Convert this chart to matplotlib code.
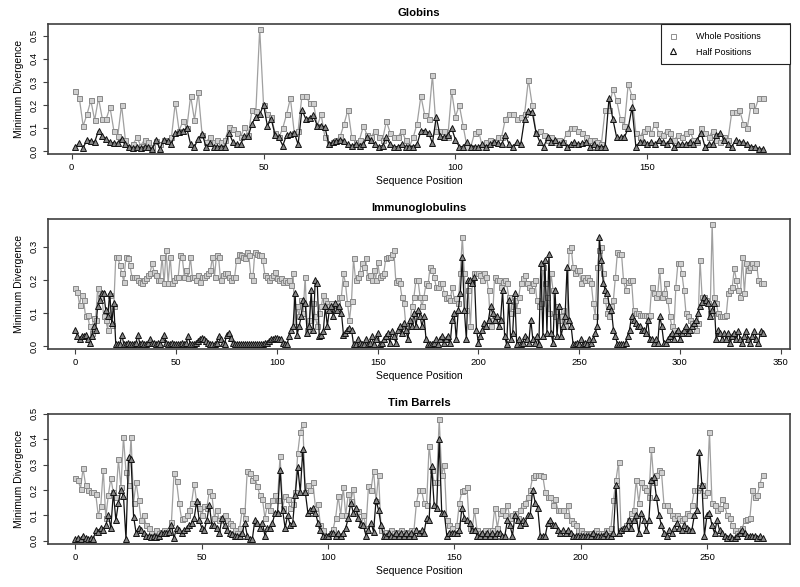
import numpy as np
import matplotlib
matplotlib.use("Agg")
import matplotlib.pyplot as plt

plt.rcParams['font.family'] = ['Liberation Sans', 'DejaVu Sans']

# ---- Globins (positions 1..180)
globin_start = 1
globin_whole = [
    .26, .23, .11, .16, .22, .135, .23, .14, .14, .19,
    .09, .065, .20, .05, .02, .03, .06, .025, .05, .04,
    .02, .045, .03, .05, .05, .06, .21, .09, .13, .10,
    .24, .135, .255, .07, .04, .06, .04, .05, .04, .05,
    .105, .095, .08, .06, .105, .07, .18, .175, .53, .20,
    .16, .15, .08, .06, .10, .16, .23, .08, .09, .24,
    .24, .21, .21, .11, .16, .06, .03, .04, .05, .065,
    .12, .18, .06, .04, .05, .11, .07, .06, .09, .06,
    .05, .13, .08, .06, .06, .09, .05, .02, .06, .12,
    .24, .155, .14, .33, .09, .09, .09, .06, .26, .15,
    .20, .11, .02, .02, .08, .09, .02, .04, .05, .04,
    .06, .06, .14, .16, .16, .14, .15, .16, .31, .20,
    .08, .09, .07, .05, .06, .04, .05, .04, .08, .10,
    .10, .09, .08, .06, .05, .05, .04, .03, .18, .18,
    .27, .22, .14, .11, .29, .24, .08, .06, .09, .10,
    .08, .12, .08, .07, .09, .08, .05, .07, .06, .08,
    .09, .05, .04, .10, .08, .06, .09, .05, .04, .06,
    .05, .17, .17, .18, .12, .10, .20, .18, .23, .23]
globin_half = [
    .02, .035, .015, .05, .045, .04, .09, .065, .055, .04,
    .035, .035, .055, .03, .02, .015, .02, .015, .02, .02,
    .01, .05, .01, .05, .045, .03, .08, .085, .09, .10,
    .03, .02, .055, .075, .02, .035, .02, .02, .02, .02,
    .08, .04, .03, .03, .065, .065, .12, .15, .16, .20,
    .11, .14, .07, .06, .025, .07, .075, .08, .03, .18,
    .14, .145, .155, .11, .11, .105, .03, .04, .045, .05,
    .045, .03, .025, .03, .025, .03, .06, .05, .03, .02,
    .025, .06, .03, .02, .02, .03, .02, .02, .02, .03,
    .09, .09, .08, .035, .15, .065, .06, .07, .10, .05,
    .02, .02, .04, .02, .02, .02, .03, .02, .03, .04,
    .035, .03, .07, .03, .02, .04, .03, .14, .175, .17,
    .08, .04, .02, .06, .04, .05, .03, .04, .02, .03,
    .04, .03, .035, .04, .02, .03, .02, .02, .02, .23,
    .14, .06, .06, .06, .10, .19, .02, .04, .04, .03,
    .04, .03, .05, .04, .03, .05, .02, .03, .03, .03,
    .04, .03, .05, .08, .02, .03, .03, .07, .08, .05,
    .03, .02, .05, .04, .04, .03, .02, .02, .01, .01]

# ---- Immunoglobulins (positions 0..341)
ig_start = 0
ig_whole = [
    .175, .165, .125, .155, .14, .09, .095, .06, .04, .085,
    .08, .175, .15, .16, .09, .08, .05, .155, .065, .12,
    .27, .27, .245, .22, .195, .27, .265, .245, .21, .21,
    .21, .20, .195, .19, .20, .205, .215, .22, .25, .225,
    .215, .20, .20, .27, .19, .29, .19, .27, .19, .20,
    .21, .21, .275, .27, .21, .23, .205, .27, .21, .21,
    .20, .215, .195, .21, .21, .215, .22, .23, .27, .21,
    .275, .27, .20, .215, .22, .22, .21, .20, .21, .21,
    .26, .28, .275, .27, .265, .285, .275, .215, .20, .285,
    .28, .275, .275, .26, .215, .21, .20, .21, .215, .225,
    .205, .20, .205, .195, .20, .195, .20, .185, .22, .06,
    .12, .09, .14, .10, .21, .05, .08, .13, .13, .09,
    .06, .10, .12, .155, .14, .13, .12, .13, .12, .11,
    .13, .15, .15, .22, .19, .13, .08, .135, .265, .20,
    .21, .22, .25, .24, .265, .21, .215, .20, .23, .20,
    .255, .21, .215, .22, .265, .27, .27, .28, .29, .195,
    .20, .19, .15, .13, .06, .06, .07, .12, .15, .20,
    .20, .15, .12, .15, .19, .185, .24, .23, .21, .18,
    .18, .19, .19, .16, .145, .15, .14, .18, .14, .145,
    .13, .22, .33, .22, .11, .17, .06, .19, .22, .22,
    .22, .215, .20, .22, .21, .17, .06, .08, .21, .20,
    .20, .18, .195, .20, .19, .15, .10, .12, .14, .11,
    .15, .19, .205, .215, .19, .18, .17, .19, .20, .14,
    .12, .13, .24, .19, .15, .10, .22, .17, .09, .12,
    .08, .09, .11, .06, .08, .29, .30, .24, .22, .23,
    .23, .19, .21, .20, .21, .20, .19, .13, .09, .24,
    .29, .30, .22, .14, .10, .09, .12, .14, .21, .285,
    .28, .28, .20, .17, .195, .20, .20, .11, .10, .10,
    .095, .095, .095, .095, .09, .095, .18, .16, .15, .16,
    .23, .15, .16, .19, .14, .09, .06, .05, .18, .25,
    .25, .22, .17, .10, .09, .08, .07, .06, .05, .07,
    .26, .15, .15, .14, .13, .10, .37, .15, .13, .10,
    .09, .09, .09, .095, .16, .17, .18, .235, .20, .17,
    .15, .27, .16, .25, .23, .24, .25, .24, .25, .20,
    .19, .19]
ig_half = [
    .05, .03, .02, .03, .03, .035, .02, .01, .03, .06,
    .05, .12, .14, .16, .16, .11, .09, .16, .07, .13,
    .005, .005, .005, .035, .005, .005, .01, .005, .005, .005,
    .01, .035, .005, .01, .005, .005, .01, .02, .01, .01,
    .005, .01, .005, .02, .035, .01, .005, .005, .01, .005,
    .005, .005, .005, .01, .005, .01, .03, .005, .005, .005,
    .01, .015, .02, .025, .02, .015, .01, .005, .005, .005,
    .01, .03, .02, .01, .005, .035, .04, .025, .01, .005,
    .005, .005, .005, .005, .005, .005, .005, .005, .005, .005,
    .005, .005, .005, .005, .01, .01, .015, .02, .02, .025,
    .025, .02, .02, .01, .005, .005, .03, .05, .06, .16,
    .035, .06, .09, .14, .13, .04, .06, .17, .05, .20,
    .19, .03, .035, .045, .12, .06, .11, .12, .09, .13,
    .11, .12, .10, .035, .04, .05, .055, .05, .005, .005,
    .02, .01, .005, .005, .02, .005, .01, .03, .005, .02,
    .04, .005, .01, .02, .03, .04, .01, .045, .03, .01,
    .05, .06, .04, .07, .05, .02, .08, .06, .10, .06,
    .11, .09, .06, .09, .02, .005, .005, .005, .01, .02,
    .005, .02, .03, .01, .02, .03, .01, .08, .10, .02,
    .11, .16, .27, .11, .02, .20, .20, .19, .21, .05,
    .01, .03, .05, .07, .06, .08, .12, .10, .08, .09,
    .06, .08, .17, .03, .005, .14, .02, .04, .16, .005,
    .02, .005, .01, .03, .02, .01, .08, .02, .01, .03,
    .005, .25, .03, .26, .04, .28, .04, .01, .17, .03,
    .12, .03, .06, .09, .24, .08, .06, .005, .005, .01,
    .005, .02, .005, .01, .005, .02, .01, .02, .04, .06,
    .33, .26, .19, .17, .16, .12, .11, .05, .03, .005,
    .005, .005, .005, .01, .03, .05, .09, .08, .07, .06,
    .06, .05, .05, .04, .08, .02, .02, .01, .02, .01,
    .09, .06, .01, .01, .02, .03, .04, .02, .04, .05,
    .02, .04, .05, .06, .04, .05, .06, .07, .08, .10,
    .12, .134, .147, .14, .13, .09, .11, .13, .02, .05,
    .04, .02, .04, .02, .04, .01, .03, .04, .02, .045,
    .02, .01, .03, .045, .02, .01, .03, .045, .02, .01,
    .045, .04]

# ---- Tim Barrels (positions 0..272)
tim_start = 0
tim_whole = [
    .245, .24, .205, .285, .22, .20, .19, .19, .185, .10,
    .135, .28, .09, .18, .245, .19, .17, .32, .21, .41,
    .27, .22, .41, .15, .23, .16, .08, .10, .06, .05,
    .03, .02, .04, .03, .035, .04, .035, .04, .075, .265,
    .235, .15, .085, .09, .10, .12, .15, .225, .15, .13,
    .10, .135, .13, .195, .18, .09, .12, .08, .09, .10,
    .08, .07, .06, .04, .03, .05, .12, .09, .275, .265,
    .24, .25, .215, .18, .165, .09, .14, .12, .16, .18,
    .16, .335, .13, .175, .165, .13, .145, .19, .345, .43,
    .46, .19, .22, .20, .23, .13, .145, .06, .04, .02,
    .02, .03, .045, .09, .175, .10, .21, .10, .185, .155,
    .205, .115, .115, .06, .10, .05, .215, .20, .275, .155,
    .26, .04, .03, .035, .03, .04, .03, .035, .03, .04,
    .03, .035, .03, .04, .04, .15, .20, .20, .15, .14,
    .375, .28, .23, .23, .48, .26, .30, .08, .06, .05,
    .03, .06, .15, .195, .20, .21, .05, .04, .12, .04,
    .03, .03, .04, .03, .04, .04, .13, .05, .11, .12,
    .10, .14, .09, .10, .11, .09, .12, .14, .15, .17,
    .20, .25, .26, .26, .26, .255, .19, .17, .17, .14,
    .165, .12, .12, .12, .10, .14, .08, .07, .06, .04,
    .04, .03, .03, .025, .03, .03, .04, .03, .03, .03,
    .04, .04, .05, .16, .24, .31, .04, .05, .06, .08,
    .11, .12, .24, .15, .23, .21, .20, .17, .36, .23,
    .26, .28, .27, .14, .14, .12, .10, .09, .10, .09,
    .08, .09, .11, .10, .14, .20, .20, .21, .22, .18,
    .19, .43, .15, .14, .12, .13, .165, .14, .10, .09,
    .06, .04, .03, .04, .05, .08, .085, .09, .20, .17,
    .18, .225, .26]
tim_half = [
    .005, .01, .005, .02, .01, .005, .01, .005, .04, .035,
    .05, .04, .06, .10, .05, .19, .08, .15, .20, .175,
    .005, .33, .32, .095, .03, .05, .04, .03, .02, .02,
    .015, .02, .015, .02, .03, .03, .03, .035, .06, .01,
    .05, .04, .03, .04, .05, .06, .07, .09, .155, .08,
    .05, .04, .08, .14, .06, .06, .05, .03, .09, .06,
    .04, .03, .025, .02, .02, .02, .03, .07, .02, .005,
    .005, .08, .07, .05, .07, .02, .05, .05, .07, .11,
    .11, .28, .12, .05, .10, .06, .07, .18, .29, .19,
    .36, .19, .11, .12, .13, .11, .07, .04, .02, .02,
    .02, .03, .03, .02, .03, .02, .03, .05, .09, .15,
    .11, .13, .09, .065, .06, .02, .04, .07, .035, .16,
    .12, .06, .02, .02, .03, .02, .02, .03, .02, .03,
    .02, .03, .02, .03, .02, .04, .03, .04, .03, .09,
    .08, .295, .14, .13, .40, .11, .11, .02, .03, .03,
    .03, .03, .04, .13, .09, .08, .07, .04, .04, .02,
    .02, .03, .02, .03, .02, .03, .02, .03, .03, .02,
    .02, .08, .06, .02, .10, .08, .06, .08, .07, .10,
    .10, .20, .15, .13, .02, .02, .02, .07, .08, .06,
    .06, .04, .03, .04, .03, .04, .03, .02, .02, .02,
    .02, .02, .02, .02, .02, .03, .02, .02, .02, .02,
    .03, .02, .02, .03, .22, .03, .04, .05, .05, .08,
    .05, .08, .10, .03, .11, .08, .04, .08, .24, .25,
    .17, .10, .06, .03, .02, .04, .03, .05, .07, .05,
    .04, .06, .05, .04, .04, .10, .12, .35, .22, .02,
    .10, .11, .06, .03, .08, .04, .03, .02, .01, .02,
    .01, .01, .02, .03, .04, .03, .02, .02, .02, .02,
    .01, .02, .01]

panels = [
    ("Globins", globin_start, globin_whole, globin_half, [0, 50, 100, 150], np.arange(0, 0.51, 0.1)),
    ("Immunoglobulins", ig_start, ig_whole, ig_half, np.arange(0, 351, 50), np.arange(0, 0.31, 0.1)),
    ("Tim Barrels", tim_start, tim_whole, tim_half, np.arange(0, 251, 50), np.arange(0, 0.51, 0.1)),
]
axes_rects = [[0.06, 0.738, 0.9275, 0.221],
              [0.06, 0.405, 0.9275, 0.222],
              [0.06, 0.073, 0.9275, 0.222]]

fig = plt.figure(figsize=(8, 5.87), dpi=100)
frame_col = "#404040"

for (title, start, whole, half, xt, yt), rect in zip(panels, axes_rects):
    ax = fig.add_axes(rect)
    x = np.arange(start, start + len(whole))
    ax.plot(x, whole, color="#a0a0a0", lw=0.9, marker="s", ms=3.6,
            mfc="#cfcfcf", mec="#888888", mew=0.7, label="Whole Positions")
    ax.plot(x, half, color="#111111", lw=0.9, marker="^", ms=4.3,
            mfc="#858585", mec="#111111", mew=0.7, label="Half Positions")
    ax.margins(x=0.04, y=0.04)
    ax.set_xticks(xt)
    ax.set_yticks(yt)
    ax.set_yticklabels([f"{v:.1f}" for v in yt], rotation=90, va="center")
    ax.tick_params(direction="out", length=3.5, width=0.8, color=frame_col,
                   labelsize=6.8, pad=3)
    for s in ax.spines.values():
        s.set_color(frame_col)
        s.set_linewidth(1.2)
    ax.set_title(title, fontsize=8.2, fontweight="bold", pad=6)
    ax.set_xlabel("Sequence Position", fontsize=7.5, labelpad=3)
    ax.set_ylabel("Minimum Divergence", fontsize=7.5, labelpad=4)
    if title == "Globins":
        h1 = plt.Line2D([], [], ls="none", marker="s", ms=3.6, mfc="white", mec="#8f8f8f", mew=0.7)
        h2 = plt.Line2D([], [], ls="none", marker="^", ms=4.3, mfc="white", mec="#111111", mew=0.8)
        leg = ax.legend([h1, h2], ["Whole Positions", "Half Positions"], loc="upper left",
                        bbox_to_anchor=(0.826, 0.0, 0.174, 1.0), mode="expand",
                        fontsize=6.5, frameon=True, fancybox=False, framealpha=1,
                        edgecolor="#222222", borderaxespad=0, borderpad=0.85,
                        handletextpad=2.0, labelspacing=0.75, handlelength=1.0)
        leg.get_frame().set_linewidth(0.8)

fig.savefig("out.png", dpi=100)
